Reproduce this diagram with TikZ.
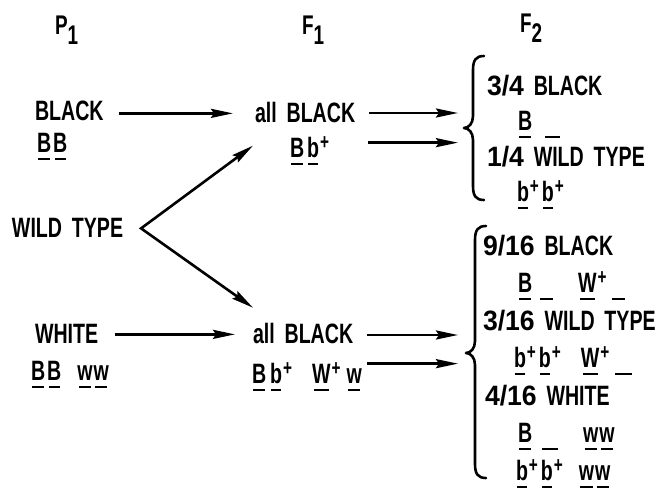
\documentclass[tikz,border=0pt]{standalone}
\usepackage{fontspec}
\setmainfont{Liberation Sans}[FakeStretch=0.7, WordSpace=1.8]
\newfontfamily\numfont{Liberation Sans}[FakeStretch=0.95, WordSpace=1.8]
\usetikzlibrary{arrows.meta,calc}

% gene symbol with a short bar underneath
\newcommand\gul[1]{\setbox0=\hbox{#1}\rlap{\kern0.1\wd0\rule[-8.2pt]{0.8\wd0}{2.6pt}}\box0}
% empty allele position
\newcommand\blank[1][13pt]{\rule[-8.2pt]{#1}{2.6pt}}
% raised plus sign for wild-type alleles
\newcommand\plus{\kern1pt\raisebox{8pt}{\fontsize{22}{22}\selectfont +}}
% lowered generation index
\newcommand\lowsub[1]{\raisebox{-10pt}{#1}}

\begin{document}
\begin{tikzpicture}[x=1pt,y=-1pt,
  txt/.style={anchor=base west, inner sep=0pt, outer sep=0pt,
    font=\fontsize{28}{30}\selectfont\bfseries},
  head/.style={anchor=base west, inner sep=0pt, outer sep=0pt,
    font=\fontsize{27}{30}\selectfont\bfseries},
  arr/.style={line width=2.6pt, -{Stealth[length=22pt,width=9pt,inset=3pt]}},
  dbl/.style={line width=2.6pt, {Stealth[length=22pt,width=9pt,inset=3pt]}-{Stealth[length=22pt,width=9pt,inset=3pt]}},
  curly/.style={line width=2.6pt, line cap=round, line join=round}]
\useasboundingbox (0,0) rectangle (671,488);

% generation headings
\node[head] (p1) at (55,34) {P\lowsub{1}};
\node[head] (f1) at (302,34) {F\lowsub{1}};
\node[head] (f2) at (520,32) {F\lowsub{2}};

% parents
\node[txt] (bk)  at (35,120) {BLACK};
\node[txt] (bkg) at (37,152) {\gul{B}\kern2pt\gul{B}};
\node[txt] (wt)  at (12,237) {WILD TYPE};
\node[txt] (wh)  at (35,343) {WHITE};
\node[txt] (whg) at (31,380) {\gul{B}\kern2pt\gul{B}\kern16pt\gul{w}\kern1pt\gul{w}};

% first filial generation
\node[txt] (f1a)  at (255,122) {all BLACK};
\node[txt] (f1ag) at (290,157) {\gul{B}\kern3pt\gul{b}\plus};
\node[txt] (f1b)  at (253,343) {all BLACK};
\node[txt] (f1bg) at (252,383) {\gul{B}\kern4pt\gul{b}\plus\kern20pt\gul{W}\plus\kern6pt\gul{w}};

% second filial generation, black x wild type
\node[txt] (a1) at (487,95)  {{\numfont 3/4} BLACK};
\node[txt] (a2) at (518,130) {\gul{B}\kern13pt\blank[15pt]};
\node[txt] (a3) at (487,166) {{\numfont 1/4} WILD TYPE};
\node[txt] (a4) at (517,201) {\gul{b}\plus\kern3pt\gul{b}\plus};

% second filial generation, white x wild type
\node[txt] (b1) at (483,255) {{\numfont 9/16} BLACK};
\node[txt] (b2) at (518,292) {\gul{B}\kern8pt\blank\kern25pt\gul{W}\plus\kern5pt\blank};
\node[txt] (b3) at (483,330) {{\numfont 3/16} WILD TYPE};
\node[txt] (b4) at (514,367) {\gul{b}\plus\kern3pt\gul{b}\plus\kern20pt\gul{W}\plus\kern6pt\blank[17pt]};
\node[txt] (b5) at (485,405) {{\numfont 4/16} WHITE};
\node[txt] (b6) at (518,442) {\gul{B}\kern10pt\blank[16pt]\kern25pt\gul{w}\kern1pt\gul{w}};
\node[txt] (b7) at (516,480) {\gul{b}\plus\kern3pt\gul{b}\plus\kern16pt\gul{w}\kern1pt\gul{w}};

% braces grouping the offspring classes
\coordinate (ubr) at (464,128);
\coordinate (lbr) at (466,353);
\draw[curly] (484,56) .. controls (476,56) and (473,60) .. (473,70) -- (473,116)
  .. controls (473,123) and (469,128) .. (ubr)
  .. controls (469,128) and (473,133) .. (473,140) -- (473,186)
  .. controls (473,196) and (476,200) .. (484,200);
\draw[curly] (486,226) .. controls (478,226) and (475,230) .. (475,240) -- (475,341)
  .. controls (475,348) and (471,353) .. (lbr)
  .. controls (471,353) and (475,358) .. (475,365) -- (475,464)
  .. controls (475,474) and (478,478) .. (486,478);

% crosses P1 -> F1
\draw[arr] ($(bk.east)+(15,3)$) coordinate (s1) -- ($(s1 -| f1a.west)+(-22,0)$);
\draw[arr] ($(wh.east)+(17,1)$) coordinate (s2) -- ($(s2 -| f1b.west)+(-18,0)$);
\coordinate (v) at ($(wt.east)+(18,1)$);
\draw[dbl] ($(f1ag.west)+(-37,-5)$) -- (v) -- ($(f1b.north west)+(0,-15)$);

% F1 -> F2
\draw[arr] ($(f1a.east)+(14,1)$) coordinate (s3) -- ($(s3 -| ubr)+(-6,0)$);
\draw[arr] ($(f1ag.east)+(39,-8)$) coordinate (s4) -- ($(s4 -| ubr)+(-6,0)$);
\draw[arr] ($(f1b.east)+(14,2)$) coordinate (s5) -- ($(s5 -| lbr)+(-8,0)$);
\draw[arr] ($(f1bg.east)+(5,-13)$) coordinate (s6) -- ($(s6 -| lbr)+(-8,0)$);
\end{tikzpicture}
\end{document}
